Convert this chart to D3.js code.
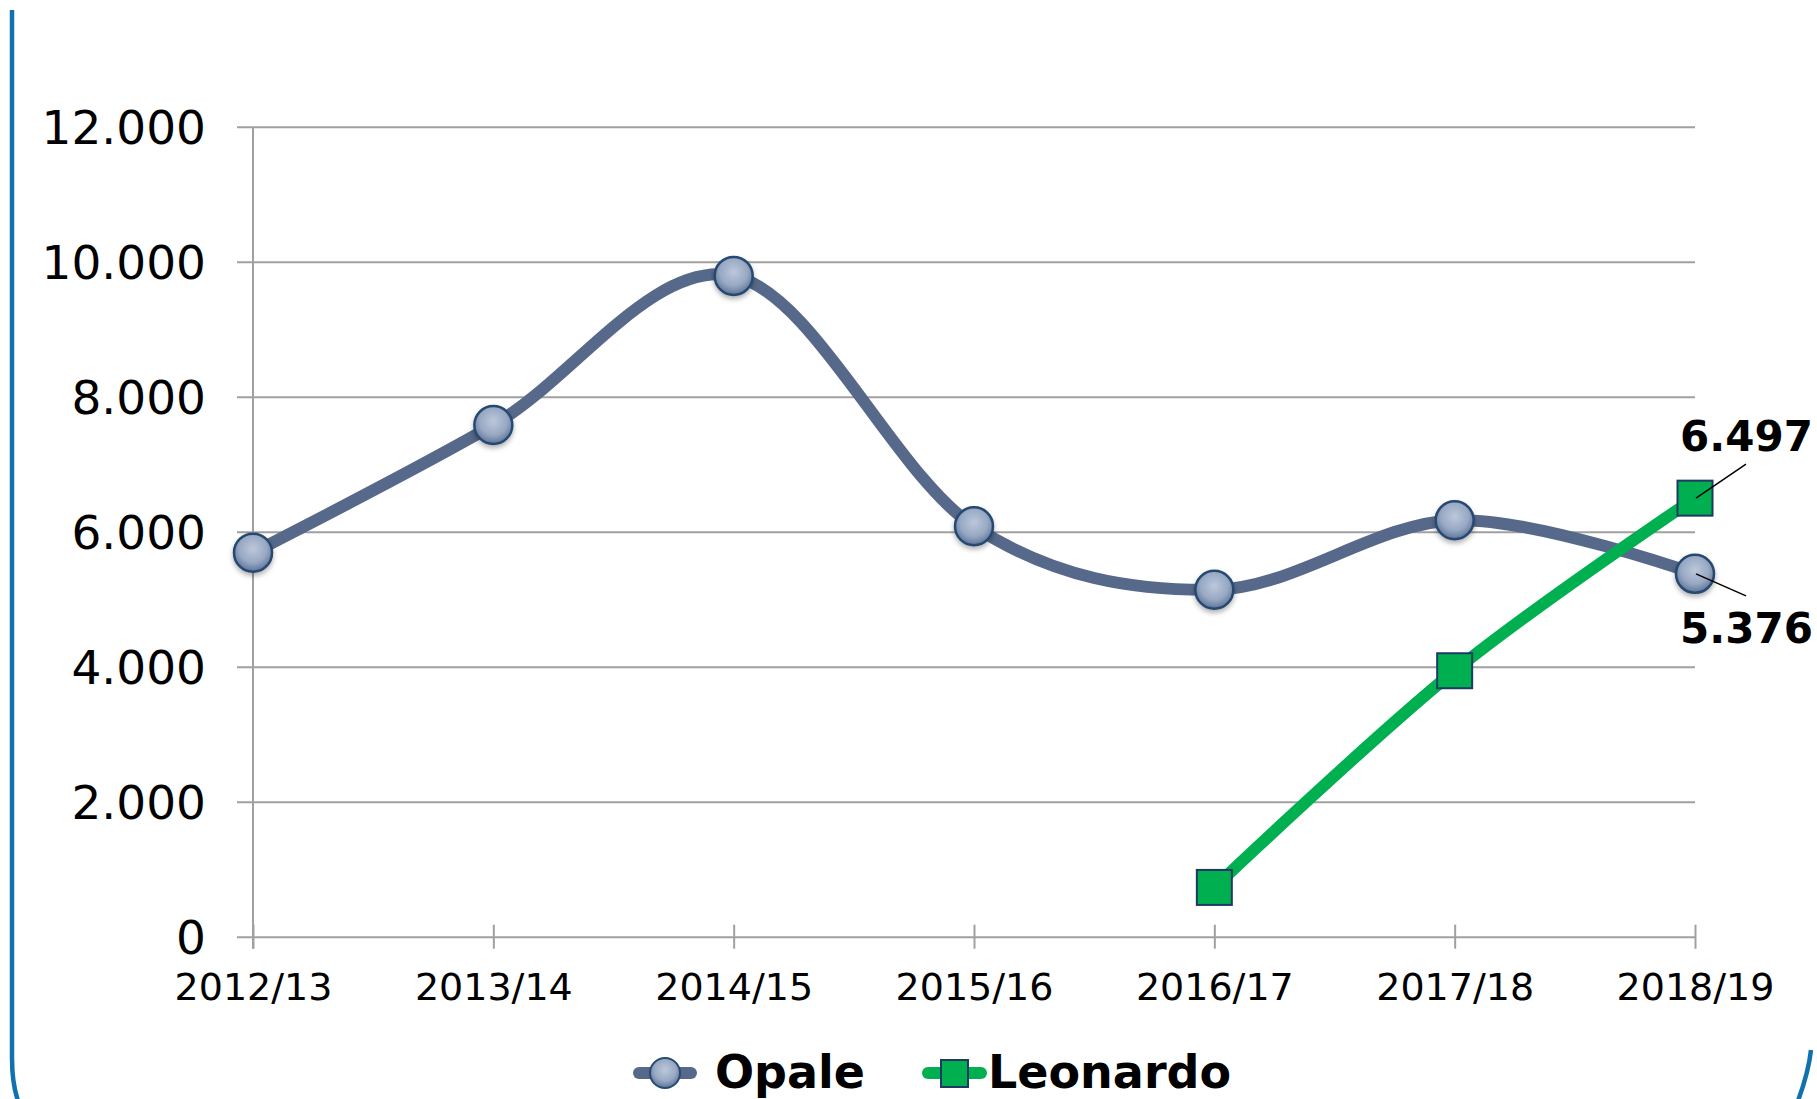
<!DOCTYPE html>
<html>
<head>
<meta charset="utf-8">
<script src="https://cdn.jsdelivr.net/npm/d3@7"></script>
<style>
  html, body { margin: 0; padding: 0; background: #fff; }
  svg { display: block; font-family: "DejaVu Sans", Verdana, sans-serif; }
</style>
</head>
<body>
<div id="chart"></div>
<script>
// chart values
const seasons = ["2012/13", "2013/14", "2014/15", "2015/16", "2016/17", "2017/18", "2018/19"];
const opale = [5690, 7580, 9790, 6080, 5140, 6170, 5376];
const leonardo = [null, null, null, null, 730, 3940, 6497];
const yTicks = [0, 2000, 4000, 6000, 8000, 10000, 12000];
const seriesNames = ["Opale", "Leonardo"];

const W = 1817, H = 1099;
const plotLeft = 253, plotRight = 1695, plotTop = 126.7, plotBottom = 936.7;
const font = "DejaVu Sans, Verdana, sans-serif";

const it = d3.formatLocale({ decimal: ",", thousands: ".", grouping: [3], currency: ["", "€"] });
const fmt = it.format(",");

const svg = d3.select("#chart").append("svg")
    .attr("width", W)
    .attr("height", H)
    .attr("font-family", font);

const defs = svg.append("defs");
const grad = defs.append("radialGradient")
    .attr("id", "ball")
    .attr("cx", "50%").attr("cy", "40%").attr("r", "60%");
grad.append("stop").attr("offset", "0%").attr("stop-color", "#bcc7da");
grad.append("stop").attr("offset", "60%").attr("stop-color", "#98a9c4");
grad.append("stop").attr("offset", "100%").attr("stop-color", "#5d7396");
const shadow = defs.append("filter").attr("id", "shadow")
    .attr("x", "-50%").attr("y", "-50%").attr("width", "200%").attr("height", "200%");
shadow.append("feDropShadow")
    .attr("dx", 0).attr("dy", 3).attr("stdDeviation", 2.5)
    .attr("flood-color", "#000").attr("flood-opacity", 0.3);

// blue frame pieces
svg.append("path")
    .attr("d", "M12,10 L12,1058 C12,1078 14,1092 20,1106")
    .attr("fill", "none")
    .attr("stroke", "#1170ae")
    .attr("stroke-width", 4.5);
svg.append("path")
    .attr("d", "M1811,1050 C1809,1068 1803,1088 1796,1106")
    .attr("fill", "none")
    .attr("stroke", "#1170ae")
    .attr("stroke-width", 4.5);

// scales
const x = d3.scalePoint()
    .domain(seasons)
    .range([plotLeft, plotRight]);

const y = d3.scaleLinear()
    .domain([0, 12000])
    .range([plotBottom, plotTop]);

// y axis with gridlines
const yAxis = svg.append("g")
    .attr("transform", `translate(${plotLeft - 16},0)`)
    .call(d3.axisLeft(y)
        .tickValues(yTicks)
        .tickFormat(fmt)
        .tickSizeInner(-(plotRight - plotLeft + 16))
        .tickSizeOuter(0)
        .tickPadding(31))
    .attr("font-family", font);
yAxis.select(".domain").remove();
yAxis.selectAll(".tick line")
    .attr("stroke", "#a0a0a0")
    .attr("stroke-width", 2);
yAxis.selectAll(".tick text")
    .attr("fill", "#000")
    .attr("font-size", 47)
    .attr("dy", "0.36em");

// vertical axis line
svg.append("line")
    .attr("x1", plotLeft).attr("x2", plotLeft)
    .attr("y1", plotTop).attr("y2", plotBottom + 12)
    .attr("stroke", "#a0a0a0")
    .attr("stroke-width", 2);

// x axis
const xAxis = svg.append("g")
    .attr("transform", `translate(0,${plotBottom})`)
    .call(d3.axisBottom(x).tickSize(12).tickSizeOuter(0))
    .attr("font-family", font);
xAxis.select(".domain").remove();
xAxis.selectAll(".tick line")
    .attr("y1", -12)
    .attr("stroke", "#a0a0a0")
    .attr("stroke-width", 2);
xAxis.selectAll(".tick text")
    .attr("fill", "#000")
    .attr("font-size", 38)
    .attr("y", 63)
    .attr("dy", 0);

// lines
const line = d3.line()
    .defined(d => d.v != null)
    .x(d => x(d.s))
    .y(d => y(d.v))
    .curve(d3.curveCardinal.tension(0));

const opaleData = seasons.map((s, i) => ({ s, v: opale[i] }));
const leoData = seasons.map((s, i) => ({ s, v: leonardo[i] }));

svg.append("path")
    .datum(opaleData)
    .attr("d", line)
    .attr("fill", "none")
    .attr("stroke", "#57698a")
    .attr("stroke-width", 12)
    .attr("stroke-linecap", "round");

svg.append("g").selectAll("circle")
    .data(opaleData)
    .join("circle")
    .attr("cx", d => x(d.s))
    .attr("cy", d => y(d.v))
    .attr("r", 19)
    .attr("fill", "url(#ball)")
    .attr("stroke", "#264a72")
    .attr("stroke-width", 2.5)
    .attr("filter", "url(#shadow)");

svg.append("path")
    .datum(leoData.filter(d => d.v != null))
    .attr("d", line)
    .attr("fill", "none")
    .attr("stroke", "#00b050")
    .attr("stroke-width", 12);

svg.append("g").selectAll("rect")
    .data(leoData.filter(d => d.v != null))
    .join("rect")
    .attr("x", d => x(d.s) - 17.5)
    .attr("y", d => y(d.v) - 17.5)
    .attr("width", 35)
    .attr("height", 35)
    .attr("fill", "#00b050")
    .attr("stroke", "#1f3864")
    .attr("stroke-width", 2);

// data labels on last points
const lastS = seasons[seasons.length - 1];
const labels = [
    { v: leonardo[leonardo.length - 1], lx: 51, ly: -34, ty: -47 },
    { v: opale[opale.length - 1], lx: 51, ly: 22, ty: 69 }
];
labels.forEach(l => {
    const px = x(lastS), py = y(l.v);
    svg.append("line")
        .attr("x1", px + 1).attr("y1", py)
        .attr("x2", px + l.lx).attr("y2", py + l.ly)
        .attr("stroke", "#000")
        .attr("stroke-width", 1.5);
    svg.append("text")
        .attr("x", px - 15)
        .attr("y", py + l.ty)
        .attr("font-size", 42)
        .attr("font-weight", "bold")
        .attr("fill", "#000")
        .text(fmt(l.v));
});

// legend
const legY = 1073;
const leg = svg.append("g");
leg.append("line")
    .attr("x1", 639).attr("x2", 691)
    .attr("y1", legY).attr("y2", legY)
    .attr("stroke", "#57698a")
    .attr("stroke-width", 12)
    .attr("stroke-linecap", "round");
leg.append("circle")
    .attr("cx", 665).attr("cy", legY)
    .attr("r", 15)
    .attr("fill", "url(#ball)")
    .attr("stroke", "#264a72")
    .attr("stroke-width", 2);
leg.append("text")
    .attr("x", 715).attr("y", 1088)
    .attr("font-size", 46)
    .attr("font-weight", "bold")
    .text(seriesNames[0]);

leg.append("line")
    .attr("x1", 928).attr("x2", 981)
    .attr("y1", legY).attr("y2", legY)
    .attr("stroke", "#00b050")
    .attr("stroke-width", 12)
    .attr("stroke-linecap", "round");
leg.append("rect")
    .attr("x", 941).attr("y", 1060)
    .attr("width", 27).attr("height", 27)
    .attr("fill", "#00b050")
    .attr("stroke", "#1f3864")
    .attr("stroke-width", 2);
leg.append("text")
    .attr("x", 988).attr("y", 1088)
    .attr("font-size", 46)
    .attr("font-weight", "bold")
    .text(seriesNames[1]);
</script>
</body>
</html>
